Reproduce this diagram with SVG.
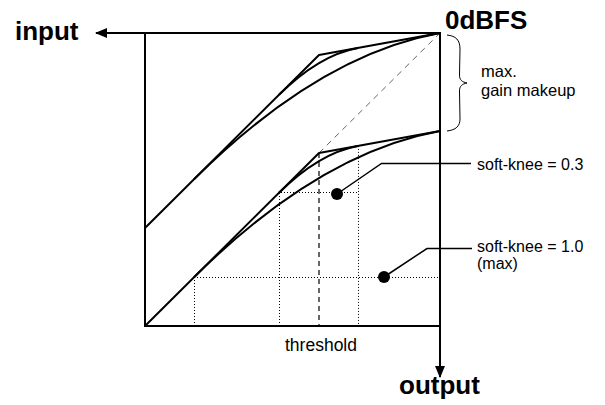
<svg xmlns="http://www.w3.org/2000/svg" width="605" height="405" viewBox="0 0 605 405">
<style>
  .frame{fill:none;stroke:#000;stroke-width:2}
  .curve{fill:none;stroke:#000;stroke-width:2;stroke-linejoin:round}
  .dot{fill:none;stroke:#000;stroke-width:1;stroke-dasharray:1 2}
  .thr{fill:none;stroke:#000;stroke-width:1.2;stroke-dasharray:5 4}
  .diag{fill:none;stroke:#666;stroke-width:1;stroke-dasharray:6 5}
  .lead{fill:none;stroke:#000;stroke-width:1.5}
  .big{font-family:"Liberation Sans",Arial,sans-serif;font-weight:bold;font-size:26px;fill:#000}
  .lbl{font-family:"Liberation Sans",Arial,sans-serif;font-size:16px;fill:#000}
</style>
<defs>
  <marker id="ah" viewBox="0 0 12 10" refX="11" refY="5" markerWidth="12" markerHeight="10" markerUnits="userSpaceOnUse" orient="auto">
    <path d="M0,0 L12,5 L0,10 Z" fill="#000"/>
  </marker>
</defs>

<g id="frame">
  <rect class="frame" x="145" y="33" width="295" height="293"/>
</g>

<g id="guides">
  <line class="diag" x1="319" y1="153" x2="440" y2="33"/>
  <line class="thr" x1="319" y1="153" x2="319" y2="326"/>
  <polyline class="dot" points="194.5,326 194.5,277.5 440,277.5"/>
  <polyline class="dot" points="279.5,326 279.5,192.5 358.5,192.5"/>
  <line class="dot" x1="358.5" y1="145.9" x2="358.5" y2="326"/>
</g>

<g id="curves-lower">
  <polyline class="curve" points="145,326 319,153 440,131"/>
  <path class="curve" d="M279,192.8 Q319,153 358,145.9"/>
  <path class="curve" d="M194,277.3 Q319,153 440,131"/>
</g>

<g id="curves-upper">
  <polyline class="curve" points="145,228 319,55 440,33"/>
  <path class="curve" d="M279,94.8 Q319,55 358,47.9"/>
  <path class="curve" d="M194,179.3 Q319,55 440,33"/>
</g>

<g id="connectors">
  <line x1="145" y1="33" x2="96" y2="33" stroke="#000" stroke-width="2" marker-end="url(#ah)"/>
  <line x1="440" y1="326" x2="440" y2="377" stroke="#000" stroke-width="2" marker-end="url(#ah)"/>
  <polyline class="lead" points="471,163.5 381.5,163.5 337,194"/>
  <polyline class="lead" points="472,248.5 427,248.5 384,277"/>
  <path d="M447,35 C456,36 460,40 460,49 L459.5,75 C459.5,80 462,82 467,83 C462,84 459.5,86 459.5,91 L460,119 C460,126 456,130 447,131" fill="none" stroke="#000" stroke-width="1"/>
</g>

<g id="dot-03"><circle cx="337" cy="194" r="6" fill="#000"/></g>
<g id="dot-10"><circle cx="384" cy="277" r="6" fill="#000"/></g>

<g id="labels">
  <text class="big" x="15" y="40">input</text>
  <text class="big" x="445" y="29">0dBFS</text>
  <text class="big" x="399" y="394">output</text>
  <text class="lbl" x="481" y="77" style="font-size:16.5px">max.</text>
  <text class="lbl" x="481" y="95.5" style="font-size:16.5px">gain makeup</text>
  <text class="lbl" x="477" y="169.5">soft-knee = 0.3</text>
  <text class="lbl" x="477" y="252">soft-knee = 1.0</text>
  <text class="lbl" x="477" y="268.5">(max)</text>
  <text class="lbl" x="285" y="350.5" style="font-size:17.5px">threshold</text>
</g>
</svg>
